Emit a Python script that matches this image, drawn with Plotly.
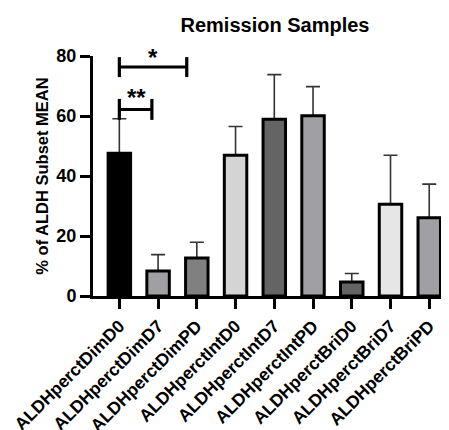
import plotly.graph_objects as go

categories = ["ALDHperctDimD0", "ALDHperctDimD7", "ALDHperctDimPD",
              "ALDHperctIntD0", "ALDHperctIntD7", "ALDHperctIntPD",
              "ALDHperctBriD0", "ALDHperctBriD7", "ALDHperctBriPD"]
means = [47.6, 8.3, 12.7, 46.9, 58.9, 60.1, 4.7, 30.6, 26.1]
errors = [11.5, 5.5, 5.2, 9.6, 14.9, 9.7, 2.8, 16.3, 11.2]
bar_colors = ["#000000", "#A0A0A4", "#808080", "#D4D4D4", "#646464",
              "#A0A0A4", "#646464", "#E6E6E6", "#A0A0A4"]
y_ticks = [0, 20, 40, 60, 80]

FONT = "Liberation Sans, Arial, Helvetica, sans-serif"
xs = list(range(len(categories)))
Y_MAX = 80
# page body has an 8px default margin; size the figure to fill the rest
OFF = 8
W, H = 449 - OFF, 430 - OFF

fig = go.Figure()
# error bars (upper only) drawn underneath bars so lower shoe is hidden
fig.add_trace(go.Bar(
    x=xs, y=means, width=0.58,
    marker=dict(color="rgba(0,0,0,0)", line=dict(width=0)),
    error_y=dict(type="data", array=errors, arrayminus=[0]*len(errors),
                 symmetric=False, color="#333333", thickness=1.6, width=7),
    showlegend=False, hoverinfo="skip"))
fig.add_trace(go.Bar(
    x=xs, y=means, width=0.58,
    marker=dict(color=bar_colors, line=dict(color="black", width=3)),
    showlegend=False))

# significance brackets
brackets = [
    dict(x0=0, x1=1.74, y=76.3, h=3.33, label="*", lx=0.87, ly=79.6),
    dict(x0=0, x1=0.84, y=62.2, h=3.5, label="**", lx=0.45, ly=66.2),
]
for b in brackets:
    fig.add_shape(type="line", xref="x", yref="y", x0=b["x0"], x1=b["x1"],
                  y0=b["y"], y1=b["y"], line=dict(color="black", width=3))
    for xe in (b["x0"], b["x1"]):
        fig.add_shape(type="line", xref="x", yref="y", x0=xe, x1=xe,
                      y0=b["y"] - b["h"], y1=b["y"] + b["h"],
                      line=dict(color="black", width=3.2))
    fig.add_annotation(x=b["lx"], y=b["ly"] / Y_MAX, xref="x", yref="y domain",
                       text="<b>" + b["label"] + "</b>",
                       showarrow=False, font=dict(family=FONT, size=24, color="black"),
                       yanchor="middle", xanchor="center")

fig.update_layout(
    width=W, height=H,
    margin=dict(l=93 - OFF, r=0, t=56 - OFF, b=134, pad=0, autoexpand=False),
    paper_bgcolor="white", plot_bgcolor="white",
    barmode="overlay",
    title=dict(text="<b>Remission Samples</b>", x=(275 - OFF) / W, xanchor="center",
               xref="container", y=1 - (25 - OFF) / H, yref="container", yanchor="middle",
               font=dict(family=FONT, size=20, color="black")),
    font=dict(family=FONT, color="black"),
)
fig.update_xaxes(
    range=[-0.68, 8.51], tickmode="array", tickvals=xs, ticktext=categories,
    tickangle=-45, tickfont=dict(family=FONT, size=17.5, color="black", weight="bold"),
    ticklabeloverflow="allow",
    showline=True, linecolor="black", linewidth=3, ticks="outside", ticklen=10,
    tickwidth=2.5, tickcolor="black", showgrid=False, zeroline=False, automargin=False)
fig.update_yaxes(
    range=[0, Y_MAX], tickmode="array", tickvals=y_ticks,
    tickfont=dict(family=FONT, size=18, color="black", weight="bold"),
    ticklabeloverflow="allow",
    showline=True, linecolor="black", linewidth=3, ticks="outside", ticklen=10,
    tickwidth=2.5, tickcolor="black", showgrid=False, zeroline=False, automargin=False,
    title=dict(text="<b>% of ALDH Subset MEAN</b>", standoff=4,
               font=dict(family=FONT, size=16.5, color="black")))

fig.write_html("out.html")
